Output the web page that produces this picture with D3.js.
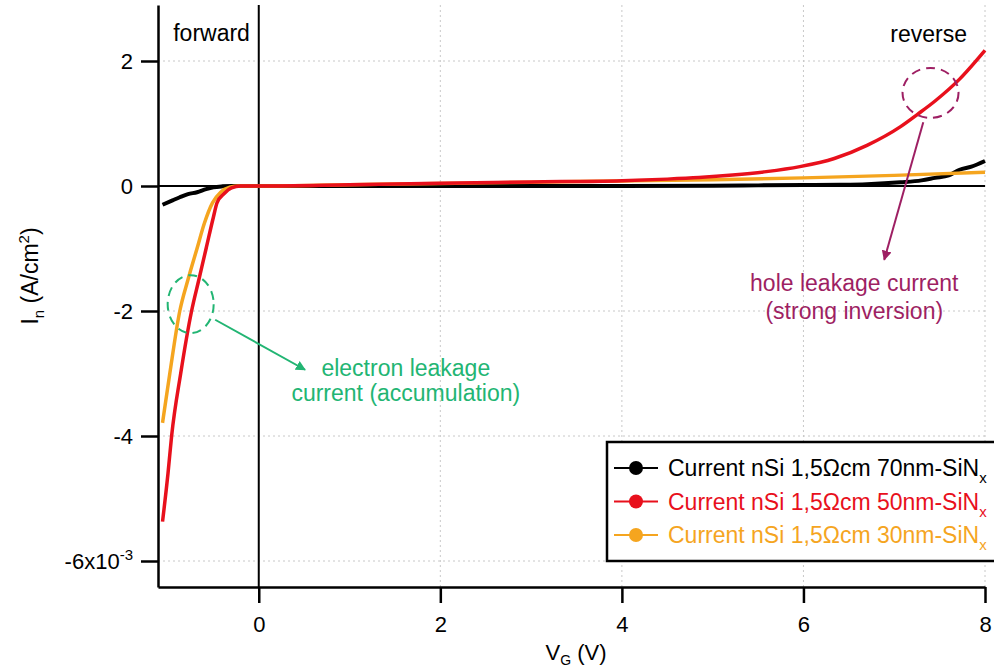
<!DOCTYPE html>
<html>
<head>
<meta charset="utf-8">
<script src="https://cdn.jsdelivr.net/npm/d3@7"></script>
<style>
  body { margin: 0; background: #fff; }
  text { font-family: "Liberation Sans", Arial, sans-serif; }
</style>
</head>
<body>
<div class="canvas"></div>
<script>
// values in units of 1e-3 A/cm2
const vg70 = [-1.06, -0.95, -0.87, -0.78, -0.68, -0.58, -0.5, -0.4, -0.3, 0, 1, 2, 3, 4, 5, 5.5, 6, 6.4, 6.7, 7.07, 7.3, 7.45, 7.6, 7.72, 7.85, 8];
const in70 = [-0.30, -0.23, -0.18, -0.13, -0.10, -0.05, -0.02, -0.005, 0, 0, 0, 0, 0, 0, 0.005, 0.01, 0.015, 0.02, 0.03, 0.06, 0.09, 0.13, 0.17, 0.26, 0.31, 0.40];

const vg50 = [-1.06, -1.0, -0.96, -0.86, -0.74, -0.66, -0.58, -0.5, -0.46, -0.38, -0.30, -0.2, 0, 1, 2, 3, 4, 4.5, 4.85, 5.22, 5.59, 5.96, 6.34, 6.7, 7.07, 7.26, 7.45, 7.72, 8];
const in50 = [-5.37, -4.6, -4.0, -3.0, -2.0, -1.5, -1.0, -0.5, -0.27, -0.12, -0.03, 0, 0, 0.02, 0.045, 0.065, 0.085, 0.11, 0.135, 0.175, 0.23, 0.31, 0.44, 0.65, 0.95, 1.15, 1.36, 1.71, 2.17];

const vg30 = [-1.06, -0.98, -0.87, -0.78, -0.68, -0.6, -0.51, -0.42, -0.32, -0.22, 0, 1, 2, 3, 4, 5, 6, 7, 8];
const in30 = [-3.79, -3.0, -2.0, -1.5, -1.0, -0.6, -0.27, -0.1, -0.02, 0, 0, 0.02, 0.04, 0.06, 0.08, 0.10, 0.13, 0.17, 0.22];

const seriesNames = ["Current nSi 1,5Ωcm 70nm-SiN", "Current nSi 1,5Ωcm 50nm-SiN", "Current nSi 1,5Ωcm 30nm-SiN"];
const seriesColors = ["#000000", "#e8101c", "#f5a51f"];

const xTicks = [0, 2, 4, 6, 8];
const xTickLabels = ["0", "2", "4", "6", "8"];
const yTicks = [2, 0, -2, -4, -6];
const yTickLabels = ["2", "0", "-2", "-4", "-6x10"];

const margin = { top: 5, right: 9, bottom: 85, left: 158 };
const graphWidth = 994 - margin.left - margin.right;
const graphHeight = 672 - margin.top - margin.bottom;

const svg = d3.select(".canvas")
  .append("svg")
  .attr("width", 994)
  .attr("height", 672);

const graph = svg.append("g")
  .attr("transform", `translate(${margin.left}, ${margin.top})`);

const x = d3.scaleLinear().domain([-1.11, 8]).range([0, graphWidth]);
const y = d3.scaleLinear().domain([-6.416, 2.896]).range([graphHeight, 0]);

// dotted grid
const grid = graph.append("g").attr("class", "grid");
grid.selectAll(".gx").data(xTicks.filter(d => d !== 0)).enter()
  .append("line")
    .attr("x1", d => x(d)).attr("x2", d => x(d))
    .attr("y1", 0).attr("y2", graphHeight)
    .attr("stroke", "#c8c8c8").attr("stroke-width", 1)
    .attr("stroke-dasharray", "2,3");
grid.selectAll(".gy").data(yTicks.filter(d => d !== 0)).enter()
  .append("line")
    .attr("x1", 0).attr("x2", graphWidth)
    .attr("y1", d => y(d)).attr("y2", d => y(d))
    .attr("stroke", "#c8c8c8").attr("stroke-width", 1)
    .attr("stroke-dasharray", "2,3");

// zero lines
graph.append("line")
  .attr("x1", 0).attr("x2", graphWidth)
  .attr("y1", y(0)).attr("y2", y(0))
  .attr("stroke", "#000").attr("stroke-width", 2);
graph.append("line")
  .attr("x1", x(0)).attr("x2", x(0))
  .attr("y1", 0).attr("y2", graphHeight)
  .attr("stroke", "#000").attr("stroke-width", 2);

// curves
const line = d3.line()
  .x(d => x(d[0]))
  .y(d => y(d[1]))
  .curve(d3.curveMonotoneX);

const series = [
  d3.zip(vg70, in70),
  d3.zip(vg50, in50),
  d3.zip(vg30, in30)
];

// draw black first, then orange, then red on top
[0, 2, 1].forEach(i => {
  graph.append("path")
    .datum(series[i])
    .attr("fill", "none")
    .attr("stroke", seriesColors[i])
    .attr("stroke-width", i === 0 ? 4 : 3.5)
    .attr("stroke-linejoin", "round")
    .attr("d", line);
});

// axes
const xAxis = d3.axisBottom(x)
  .tickValues(xTicks)
  .tickSize(16)
  .tickSizeOuter(0)
  .tickPadding(8)
  .tickFormat((d, i) => xTickLabels[i]);

const yAxis = d3.axisLeft(y)
  .tickValues(yTicks)
  .tickSize(17)
  .tickSizeOuter(0)
  .tickPadding(8)
  .tickFormat((d, i) => yTickLabels[i]);

const xAxisGroup = graph.append("g")
  .attr("transform", `translate(0, ${graphHeight})`)
  .call(xAxis);
const yAxisGroup = graph.append("g").call(yAxis);

[xAxisGroup, yAxisGroup].forEach(g => {
  g.select(".domain").attr("stroke", "#000").attr("stroke-width", 2.5);
  g.selectAll(".tick line").attr("stroke", "#000").attr("stroke-width", 2.5);
  g.selectAll("text")
    .attr("fill", "#000")
    .style("font-family", "'Liberation Sans', Arial, sans-serif")
    .style("font-size", "22px");
});
xAxisGroup.selectAll("text").attr("dy", "0.95em");

// superscript on the bottom y label
yAxisGroup.selectAll(".tick text")
  .filter(d => d === -6)
  .attr("x", -25)
  .append("tspan")
    .attr("dy", "-0.6em")
    .style("font-size", "15px")
    .text("-3");

// axis titles
const yTitle = svg.append("text")
  .attr("transform", "translate(38, 276) rotate(-90)")
  .attr("text-anchor", "middle")
  .style("font-size", "23px");
yTitle.append("tspan").text("I");
yTitle.append("tspan").attr("dy", "6").style("font-size", "15px").text("n");
yTitle.append("tspan").attr("dy", "-6").text(" (A/cm");
yTitle.append("tspan").attr("dy", "-9").style("font-size", "15px").text("2");
yTitle.append("tspan").attr("dy", "9").text(")");

const xTitle = svg.append("text")
  .attr("x", 576)
  .attr("y", 660)
  .attr("text-anchor", "middle")
  .style("font-size", "22px");
xTitle.append("tspan").text("V");
xTitle.append("tspan").attr("dy", "5").style("font-size", "14px").text("G");
xTitle.append("tspan").attr("dy", "-5").text(" (V)");

// forward / reverse labels
graph.append("text")
  .attr("x", x(-0.52)).attr("y", y(2.45))
  .attr("dy", "0.35em")
  .attr("text-anchor", "middle")
  .style("font-size", "23px")
  .text("forward");
graph.append("text")
  .attr("x", x(7.38)).attr("y", y(2.43))
  .attr("dy", "0.35em")
  .attr("text-anchor", "middle")
  .style("font-size", "23px")
  .text("reverse");

// arrow heads
const defs = svg.append("defs");
[["arrowGreen", "#22b573"], ["arrowPurple", "#9e1f63"]].forEach(([id, c]) => {
  defs.append("marker")
    .attr("id", id)
    .attr("viewBox", "0 0 10 10")
    .attr("refX", 9).attr("refY", 5)
    .attr("markerWidth", 5).attr("markerHeight", 5)
    .attr("orient", "auto")
    .append("path")
      .attr("d", "M0,0 L10,5 L0,10 z")
      .attr("fill", c);
});

// electron leakage annotation
const green = "#22b573";
graph.append("ellipse")
  .attr("cx", x(-0.75)).attr("cy", y(-1.89))
  .attr("rx", 23).attr("ry", 29)
  .attr("fill", "none")
  .attr("stroke", green).attr("stroke-width", 2)
  .attr("stroke-dasharray", "9,6");
graph.append("line")
  .attr("x1", x(-0.48)).attr("y1", y(-2.14))
  .attr("x2", x(0.51)).attr("y2", y(-2.94))
  .attr("stroke", green).attr("stroke-width", 2)
  .attr("marker-end", "url(#arrowGreen)");
graph.append("text")
  .attr("x", x(1.62)).attr("y", y(-2.91))
  .attr("dy", "0.35em")
  .attr("text-anchor", "middle")
  .attr("fill", green)
  .style("font-size", "23px")
  .text("electron leakage");
graph.append("text")
  .attr("x", x(1.62)).attr("y", y(-3.31))
  .attr("dy", "0.35em")
  .attr("text-anchor", "middle")
  .attr("fill", green)
  .style("font-size", "23px")
  .text("current (accumulation)");

// hole leakage annotation
const purple = "#9e1f63";
graph.append("ellipse")
  .attr("cx", x(7.40)).attr("cy", y(1.49))
  .attr("rx", 28).attr("ry", 25)
  .attr("fill", "none")
  .attr("stroke", purple).attr("stroke-width", 2)
  .attr("stroke-dasharray", "9,6");
graph.append("line")
  .attr("x1", x(7.32)).attr("y1", y(1.02))
  .attr("x2", x(6.89)).attr("y2", y(-1.18))
  .attr("stroke", purple).attr("stroke-width", 2)
  .attr("marker-end", "url(#arrowPurple)");
graph.append("text")
  .attr("x", x(6.56)).attr("y", y(-1.55))
  .attr("dy", "0.35em")
  .attr("text-anchor", "middle")
  .attr("fill", purple)
  .style("font-size", "23px")
  .text("hole leakage current");
graph.append("text")
  .attr("x", x(6.56)).attr("y", y(-2.0))
  .attr("dy", "0.35em")
  .attr("text-anchor", "middle")
  .attr("fill", purple)
  .style("font-size", "23px")
  .text("(strong inversion)");

// legend
const legend = svg.append("g").attr("transform", "translate(607, 442)");
legend.append("rect")
  .attr("width", 400).attr("height", 119)
  .attr("fill", "#fff")
  .attr("stroke", "#000").attr("stroke-width", 2.5);

const rows = legend.selectAll(".row")
  .data(seriesNames)
  .enter()
  .append("g")
    .attr("transform", (d, i) => `translate(0, ${26 + i * 33.5})`);

rows.append("line")
  .attr("x1", 7).attr("x2", 51)
  .attr("stroke", (d, i) => seriesColors[i])
  .attr("stroke-width", 2);
rows.append("circle")
  .attr("cx", 29).attr("r", 7)
  .attr("fill", (d, i) => seriesColors[i]);
const rowText = rows.append("text")
  .attr("x", 61)
  .attr("dy", "0.35em")
  .attr("fill", (d, i) => seriesColors[i])
  .style("font-size", "23px");
rowText.append("tspan").text(d => d);
rowText.append("tspan")
  .attr("dy", "7")
  .style("font-size", "15px")
  .text("x");
</script>
</body>
</html>
